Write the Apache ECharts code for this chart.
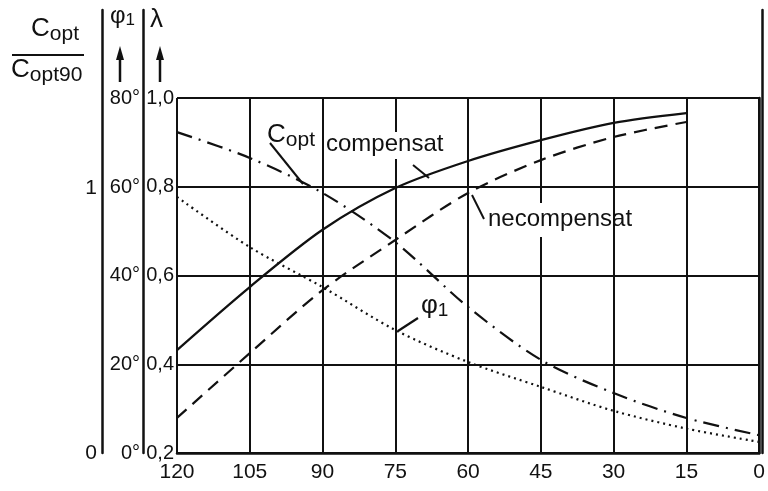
<!DOCTYPE html>
<html>
<head>
<meta charset="utf-8">
<script src="https://cdn.jsdelivr.net/npm/echarts@6/dist/echarts.min.js"></script>
<style>
  html, body { margin: 0; padding: 0; background: #fff; }
  #chart { width: 768px; height: 491px; }
</style>
</head>
<body>
<div id="chart"></div>
<script>
// angle on the x axis (reversed: 120 -> 0)
const angles = [120, 105, 90, 75, 60, 45, 30, 15, 0];
const xTicks = [120, 105, 90, 75, 60, 45, 30, 15, 0];

// curves read in λ units (left λ scale)
const cCompensat = [0.432, 0.574, 0.703, 0.797, 0.858, 0.905, 0.944, 0.966, null];
const cNecompensat = [0.279, 0.425, 0.567, 0.680, 0.786, 0.860, 0.912, 0.946, null];
const lambdaCurve = [0.923, 0.865, 0.786, 0.675, 0.529, 0.410, 0.335, 0.279, 0.240];
// φ1 in degrees (φ1 scale)
const phi1 = [57.7, 46.4, 37.4, 27.7, 20.5, 14.9, 9.5, 5.5, 2.5];

const lambdaTicks = [0.2, 0.4, 0.6, 0.8, 1.0];
const phiTicks = [0, 20, 40, 60, 80];
const coptTicks = [0, 1];

const pairs = (vals) => angles.map((a, i) => [a, vals[i]]);

const FONT = 'Liberation Sans';
const INK = '#111';

const chart = echarts.init(document.getElementById('chart'));

const lineStyleBase = { color: INK, width: 2 };

// "C" with subscript, used for the fraction and the curve note
const cSub = (sub, big) => ({
  text: '{b|C}{s|' + sub + '}',
  rich: {
    b: { fontSize: big, fontFamily: FONT, fill: INK },
    s: { fontSize: big - 5, fontFamily: FONT, fill: INK, padding: [11, 0, 0, 0] }
  }
});
const phiSub = (big) => ({
  text: '{b|φ}{s|1}',
  rich: {
    b: { fontSize: big, fontFamily: FONT, fill: INK },
    s: { fontSize: big - 7, fontFamily: FONT, fill: INK, padding: [9, 0, 0, 0] }
  }
});

const option = {
  backgroundColor: '#fff',
  animation: false,
  textStyle: { fontFamily: FONT, color: INK },
  grid: [
    { left: 177, right: 6, top: 98, bottom: 38 },
    { left: 177, right: 6, top: 10, bottom: 38 }
  ],
  xAxis: [
    {
      gridIndex: 0,
      type: 'value',
      min: 0,
      max: 120,
      interval: 15,
      inverse: true,
      axisLine: { lineStyle: { color: INK, width: 2.5 } },
      axisTick: { show: false },
      axisLabel: {
        color: INK,
        fontSize: 21,
        fontFamily: FONT,
        margin: 9,
        formatter: (v) => (xTicks.includes(v) ? String(v) : '')
      },
      splitLine: { show: true, lineStyle: { color: INK, width: 2 } }
    },
    { gridIndex: 1, type: 'value', min: 0, max: 120, inverse: true, show: false }
  ],
  yAxis: [
    {
      // λ scale, main plot
      gridIndex: 0,
      type: 'value',
      min: 0.2,
      max: 1.0,
      interval: 0.2,
      axisLine: { show: true, lineStyle: { color: INK, width: 2.5 } },
      axisTick: { show: true, length: 5, lineStyle: { color: INK, width: 2 } },
      axisLabel: {
        color: INK,
        fontSize: 20,
        fontFamily: FONT,
        margin: 3,
        formatter: (v) => {
          const t = lambdaTicks.find((x) => Math.abs(x - v) < 1e-6);
          return t !== undefined ? t.toFixed(1).replace('.', ',') : '';
        }
      },
      splitLine: { show: true, lineStyle: { color: INK, width: 2 } }
    },
    { gridIndex: 0, type: 'value', min: 0, max: 80, show: false },
    {
      // λ axis line extended to the top
      gridIndex: 1,
      type: 'value',
      min: 0.2,
      max: 1.2,
      interval: 0.2,
      axisLine: { show: true, lineStyle: { color: INK, width: 2.5 } },
      axisTick: { show: false },
      axisLabel: { show: false },
      splitLine: { show: false }
    },
    {
      // φ1 scale
      gridIndex: 1,
      type: 'value',
      position: 'left',
      offset: 34,
      min: 0,
      max: 100,
      interval: 20,
      axisLine: { show: true, lineStyle: { color: INK, width: 2.5 } },
      axisTick: { show: false },
      axisLabel: {
        color: INK,
        fontSize: 20,
        fontFamily: FONT,
        margin: 3,
        formatter: (v) => (phiTicks.includes(v) ? v + '°' : '')
      },
      splitLine: { show: false }
    },
    {
      // Copt / Copt90 scale
      gridIndex: 1,
      type: 'value',
      position: 'left',
      offset: 75,
      min: 0,
      max: 1.672,
      interval: 1,
      axisLine: { show: true, lineStyle: { color: INK, width: 2.5 } },
      axisTick: { show: false },
      axisLabel: {
        color: INK,
        fontSize: 21,
        fontFamily: FONT,
        margin: 5,
        formatter: (v) => (coptTicks.includes(v) ? String(v) : '')
      },
      splitLine: { show: false }
    }
  ],
  series: [
    {
      name: 'compensat',
      type: 'line',
      xAxisIndex: 0,
      yAxisIndex: 0,
      data: pairs(cCompensat),
      smooth: 0.3,
      symbol: 'none',
      lineStyle: { ...lineStyleBase, type: 'solid', width: 2.3 }
    },
    {
      name: 'necompensat',
      type: 'line',
      xAxisIndex: 0,
      yAxisIndex: 0,
      data: pairs(cNecompensat),
      smooth: 0.3,
      symbol: 'none',
      lineStyle: { ...lineStyleBase, type: [13, 8], width: 2.2 }
    },
    {
      name: 'lambda',
      type: 'line',
      xAxisIndex: 0,
      yAxisIndex: 0,
      data: pairs(lambdaCurve),
      smooth: 0.3,
      symbol: 'none',
      lineStyle: { ...lineStyleBase, type: [16, 7, 2, 7], width: 2.2 }
    },
    {
      name: 'phi1',
      type: 'line',
      xAxisIndex: 0,
      yAxisIndex: 1,
      data: pairs(phi1),
      smooth: 0.3,
      symbol: 'none',
      lineStyle: { ...lineStyleBase, type: [2, 4], width: 2.2 }
    }
  ],
  graphic: [
    // Copt / Copt90 fraction
    { type: 'text', left: 31, top: 16, style: cSub('opt', 26) },
    { type: 'line', shape: { x1: 12, y1: 55, x2: 84, y2: 55 }, style: { stroke: INK, lineWidth: 2 } },
    { type: 'text', left: 11, top: 57, style: cSub('opt90', 26) },
    // φ1 name and arrow
    { type: 'text', left: 110, top: 4, style: phiSub(24) },
    { type: 'line', shape: { x1: 120, y1: 56, x2: 120, y2: 82 }, style: { stroke: INK, lineWidth: 2.5 } },
    { type: 'polygon', shape: { points: [[116, 60], [120, 46], [124, 60]] }, style: { fill: INK } },
    // λ name and arrow
    { type: 'text', left: 150, top: 7, style: { text: 'λ', fontSize: 26, fontFamily: FONT, fill: INK } },
    { type: 'line', shape: { x1: 160, y1: 56, x2: 160, y2: 82 }, style: { stroke: INK, lineWidth: 2.5 } },
    { type: 'polygon', shape: { points: [[156, 60], [160, 46], [164, 60]] }, style: { fill: INK } },
    // white boxes that break the grid lines behind the curve notes
    { type: 'rect', z: 50, shape: { x: 392, y: 132, width: 12, height: 27 }, style: { fill: '#fff' } },
    { type: 'rect', z: 50, shape: { x: 536, y: 203, width: 14, height: 34 }, style: { fill: '#fff' } },
    // curve notes
    { type: 'text', z: 60, left: 267, top: 122, style: cSub('opt', 26) },
    { type: 'line', z: 60, shape: { x1: 270, y1: 143, x2: 303, y2: 184 }, style: { stroke: INK, lineWidth: 2 } },
    { type: 'text', z: 60, left: 326, top: 132, style: { text: 'compensat', fontSize: 24, fontFamily: FONT, fill: INK } },
    { type: 'line', z: 60, shape: { x1: 413, y1: 165, x2: 429, y2: 178 }, style: { stroke: INK, lineWidth: 2 } },
    { type: 'text', z: 60, left: 488, top: 207, style: { text: 'necompensat', fontSize: 24, fontFamily: FONT, fill: INK } },
    { type: 'line', z: 60, shape: { x1: 472, y1: 195, x2: 484, y2: 219 }, style: { stroke: INK, lineWidth: 2 } },
    { type: 'text', z: 60, left: 421, top: 293, style: phiSub(26) },
    { type: 'line', z: 60, shape: { x1: 418, y1: 318, x2: 398, y2: 331 }, style: { stroke: INK, lineWidth: 2.2 } }
  ]
};

chart.setOption(option);
</script>
</body>
</html>
